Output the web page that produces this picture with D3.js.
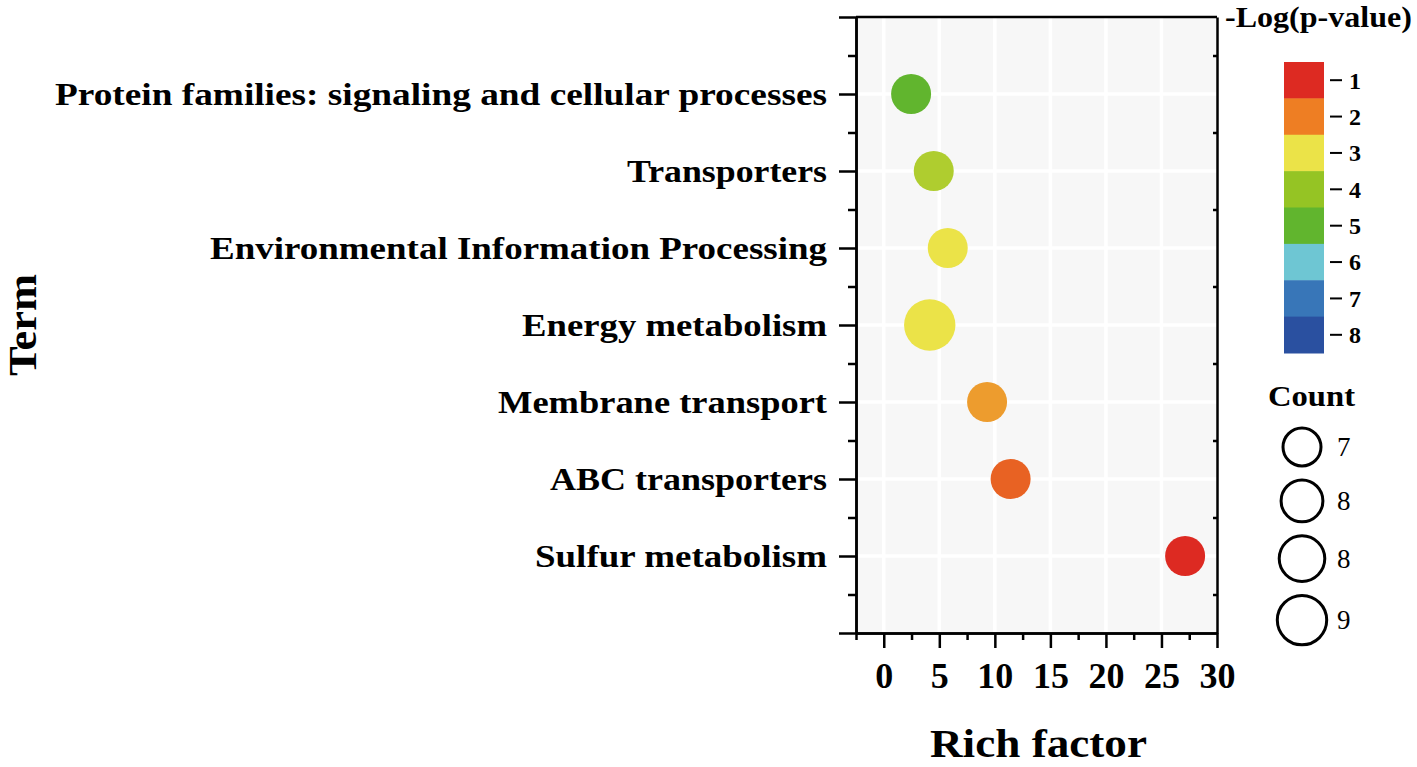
<!DOCTYPE html>
<html>
<head>
<meta charset="utf-8">
<script src="https://cdn.jsdelivr.net/npm/d3@7/dist/d3.min.js"></script>
<style>
  html, body { margin: 0; padding: 0; background: #fff; }
  svg { display: block; font-family: "Liberation Serif", "Times New Roman", serif; }
</style>
</head>
<body>
<svg id="chart" width="1417" height="767"></svg>
<script>
// ---- data ----
const terms = [
  "Protein families: signaling and cellular processes",
  "Transporters",
  "Environmental Information Processing",
  "Energy metabolism",
  "Membrane transport",
  "ABC transporters",
  "Sulfur metabolism"
];
const termPositions = [7, 6, 5, 4, 3, 2, 1];
const richFactor = [2.46, 4.5, 5.76, 4.14, 9.3, 11.42, 27.13];
const negLogP = [5.0, 3.7, 3.0, 3.0, 2.3, 1.67, 1.0];
const counts = [7, 7, 7, 9, 7, 7, 7];
const labelWidths = [772, 200, 617, 305, 329, 277, 292];

const xTicks = [0, 5, 10, 15, 20, 25, 30];
const xMinorTicks = [-2.5, 2.5, 7.5, 12.5, 17.5, 22.5, 27.5];
const yMajorTicks = [0, 1, 2, 3, 4, 5, 6, 7, 8];
const yMinorTicks = [0.5, 1.5, 2.5, 3.5, 4.5, 5.5, 6.5, 7.5];

const colorTicks = [1, 2, 3, 4, 5, 6, 7, 8];
const colorStops = ["#dd2a22", "#ee7e23", "#ebe348", "#95c424", "#61b52e", "#6ec6d3", "#3876b8", "#2a50a0"];

const countLegendValues = [7, 7.67, 8.33, 9];
const countLegendLabels = ["7", "8", "8", "9"];

// ---- layout ----
const svg = d3.select("#chart");
const L = 856, R = 1217, T = 17, B = 633;
const x = d3.scaleLinear().domain([-2.5, 30]).range([L, R]);
const y = d3.scaleLinear().domain([0, 8]).range([B, T]);
const color = d3.scaleLinear().domain(colorTicks).range(colorStops);
const rScale = d3.scaleLinear().domain([7, 9]).range([20, 25.7]);

// background
svg.append("rect").attr("x", L).attr("y", T).attr("width", R - L).attr("height", B - T).attr("fill", "#f7f7f7");

// grid
svg.append("g").selectAll("line").data(xTicks.slice(0, -1)).join("line")
  .attr("x1", d => x(d)).attr("x2", d => x(d)).attr("y1", T).attr("y2", B)
  .attr("stroke", "#fff").attr("stroke-width", 3.5);
svg.append("g").selectAll("line").data(termPositions).join("line")
  .attr("x1", L).attr("x2", R).attr("y1", d => y(d)).attr("y2", d => y(d))
  .attr("stroke", "#fff").attr("stroke-width", 3.5);

// bubbles
svg.append("g").selectAll("circle").data(terms).join("circle")
  .attr("cx", (d, i) => x(richFactor[i]))
  .attr("cy", (d, i) => y(termPositions[i]))
  .attr("r", (d, i) => rScale(counts[i]))
  .attr("fill", (d, i) => color(negLogP[i]));

// axes
const sw = 2.5;
function styleAxis(g) {
  g.select(".domain").attr("stroke", "#000").attr("stroke-width", sw);
  g.selectAll(".tick line").attr("stroke", "#000").attr("stroke-width", sw);
  g.selectAll(".tick text").remove();
}
svg.append("g").attr("transform", `translate(${L},0)`)
  .call(d3.axisLeft(y).tickValues(yMajorTicks).tickSize(17).tickSizeOuter(0).tickFormat(""))
  .call(styleAxis);
svg.append("g").attr("transform", `translate(${L},0)`)
  .call(d3.axisLeft(y).tickValues(yMinorTicks).tickSize(8).tickSizeOuter(0).tickFormat(""))
  .call(styleAxis);
svg.append("g").attr("transform", `translate(${R},0)`)
  .call(d3.axisRight(y).tickValues(yMinorTicks).tickSize(-4).tickSizeOuter(0).tickFormat(""))
  .call(styleAxis);
svg.append("line").attr("x1", L).attr("x2", R).attr("y1", T).attr("y2", T)
  .attr("stroke", "#000").attr("stroke-width", sw);

const xAxisG = svg.append("g").attr("transform", `translate(0,${B})`)
  .call(d3.axisBottom(x).tickValues(xTicks).tickSize(15).tickSizeOuter(0));
xAxisG.select(".domain").attr("stroke", "#000").attr("stroke-width", sw);
xAxisG.selectAll(".tick line").attr("stroke", "#000").attr("stroke-width", sw);
xAxisG.selectAll(".tick text")
  .attr("y", 55).attr("dy", 0)
  .attr("fill", "#000")
  .style("font-family", "Liberation Serif")
  .style("font-weight", "bold")
  .style("font-size", "36px");
svg.append("g").attr("transform", `translate(0,${B})`)
  .call(d3.axisBottom(x).tickValues(xMinorTicks).tickSize(7).tickSizeOuter(0).tickFormat(""))
  .call(styleAxis);

// category labels
svg.append("g").selectAll("text").data(terms).join("text")
  .attr("x", 827)
  .attr("y", (d, i) => y(termPositions[i]))
  .attr("dy", "0.34em")
  .attr("text-anchor", "end")
  .attr("textLength", (d, i) => labelWidths[i])
  .attr("lengthAdjust", "spacingAndGlyphs")
  .style("font-weight", "bold")
  .style("font-size", "32px")
  .text(d => d);

// axis titles
svg.append("text")
  .attr("x", (L + R) / 2 + 2).attr("y", 757)
  .attr("text-anchor", "middle")
  .attr("textLength", 217).attr("lengthAdjust", "spacingAndGlyphs")
  .style("font-weight", "bold").style("font-size", "39px")
  .text("Rich factor");
svg.append("text")
  .attr("transform", `translate(36,${(T + B) / 2}) rotate(-90)`)
  .attr("text-anchor", "middle")
  .attr("textLength", 102).attr("lengthAdjust", "spacingAndGlyphs")
  .style("font-weight", "bold").style("font-size", "39px")
  .text("Term");

// color legend
svg.append("text")
  .attr("x", 1225).attr("y", 27)
  .attr("textLength", 187).attr("lengthAdjust", "spacingAndGlyphs")
  .style("font-weight", "bold").style("font-size", "30px")
  .text("-Log(p-value)");
const cb = d3.scaleBand().domain(colorTicks).range([62, 353]);
svg.append("g").selectAll("rect").data(colorTicks).join("rect")
  .attr("x", 1284).attr("width", 40)
  .attr("y", d => cb(d)).attr("height", cb.bandwidth() + 0.5)
  .attr("fill", (d, i) => colorStops[i]);
svg.append("g").selectAll("line").data(colorTicks).join("line")
  .attr("x1", 1330).attr("x2", 1342)
  .attr("y1", d => cb(d) + cb.bandwidth() / 2)
  .attr("y2", d => cb(d) + cb.bandwidth() / 2)
  .attr("stroke", "#000").attr("stroke-width", 2);
svg.append("g").selectAll("text").data(colorTicks).join("text")
  .attr("x", 1349)
  .attr("y", d => cb(d) + cb.bandwidth() / 2)
  .attr("dy", "0.35em")
  .style("font-weight", "bold").style("font-size", "24px")
  .text(d => d);

// count legend
svg.append("text")
  .attr("x", 1268).attr("y", 406)
  .attr("textLength", 87).attr("lengthAdjust", "spacingAndGlyphs")
  .style("font-weight", "bold").style("font-size", "29px")
  .text("Count");
let cy = 427;
const legendY = countLegendValues.map(v => {
  const r = rScale(v);
  const c = cy + r;
  cy = c + r + 12;
  return c;
});
svg.append("g").selectAll("circle").data(countLegendValues).join("circle")
  .attr("cx", 1302)
  .attr("cy", (d, i) => legendY[i])
  .attr("r", d => rScale(d) - 1)
  .attr("fill", "none").attr("stroke", "#000").attr("stroke-width", 3);
svg.append("g").selectAll("text").data(countLegendLabels).join("text")
  .attr("x", 1337)
  .attr("y", (d, i) => legendY[i])
  .attr("dy", "0.34em")
  .style("font-size", "27px")
  .text(d => d);
</script>
</body>
</html>
